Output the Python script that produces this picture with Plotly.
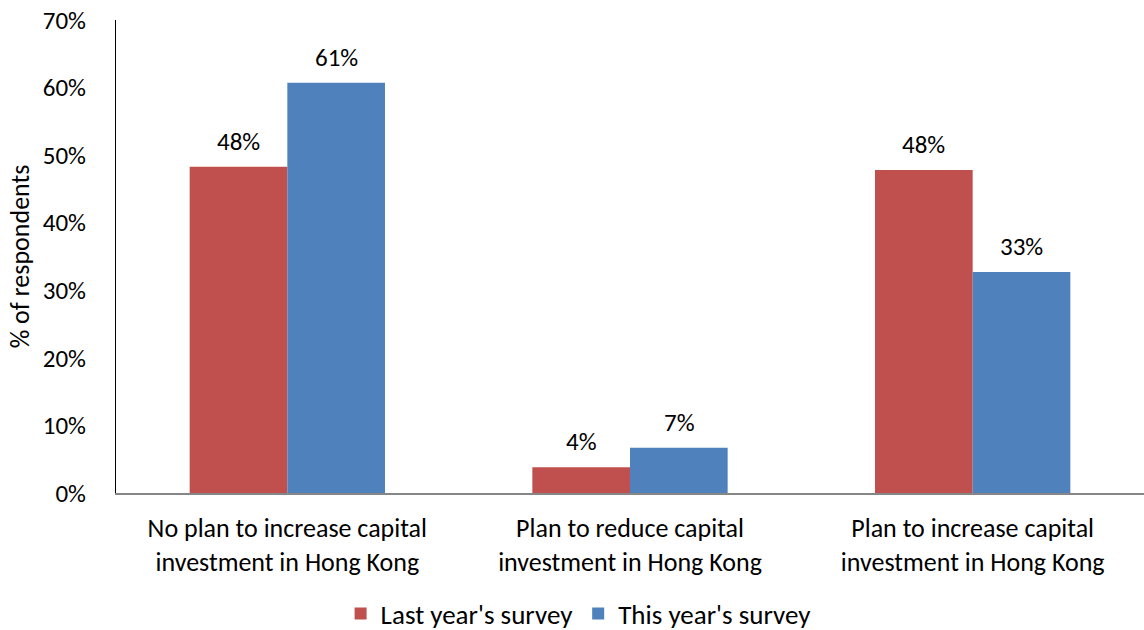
import plotly.graph_objects as go

categories = [
    "No plan to increase capital<br>investment in Hong Kong",
    "Plan to reduce capital<br>investment in Hong Kong",
    "Plan to increase capital<br>investment in Hong Kong",
]
last_year = [48.3, 3.8, 47.8]
this_year = [60.7, 6.7, 32.7]
series_names = ["Last year's survey", "This year's survey"]
colors = ["#C0504D", "#4F81BD"]

FONT = "Carlito, Lato, sans-serif"
FS = 25       # numbers: axis ticks and value labels
FS_CAT = 26   # category names
FS_LEG = 27   # legend
BAR_PX = 98   # drawn width of one bar in pixels, used to centre value labels

fig = go.Figure()
for name, vals, col in zip(series_names, [last_year, this_year], colors):
    fig.add_trace(go.Bar(
        x=categories,
        y=vals,
        name=name,
        marker=dict(color=col, line=dict(width=0)),
    ))

# value labels above each bar
for si, vals in enumerate([last_year, this_year]):
    shift = (si - 0.5) * BAR_PX
    for cat, v in zip(categories, vals):
        fig.add_annotation(
            x=cat, y=v, text=f"{v:.0f}%",
            showarrow=False, xshift=shift, yshift=8,
            yanchor="bottom", xanchor="center",
            font=dict(size=FS, color="#000000", family=FONT),
        )

fig.update_layout(
    width=1144,
    height=630,
    margin=dict(l=116, r=0, t=20, b=137, autoexpand=False),
    barmode="group",
    bargap=0.43,
    bargroupgap=0,
    plot_bgcolor="white",
    paper_bgcolor="white",
    font=dict(family=FONT, size=FS, color="#000000"),
    showlegend=True,
    legend=dict(
        orientation="h",
        x=0.45, xanchor="center",
        y=-0.2558, yanchor="middle",
        font=dict(size=FS_LEG),
        itemwidth=30,
        traceorder="normal",
    ),
    xaxis=dict(
        showline=True,
        linecolor="#868686",
        linewidth=2,
        ticks="",
        ticklabelstandoff=11,
        tickfont=dict(size=FS_CAT),
    ),
    yaxis=dict(
        range=[0, 70],
        dtick=10,
        ticksuffix="%",
        showgrid=False,
        zeroline=False,
        showline=True,
        linecolor="#000000",
        linewidth=1,
        ticks="",
        ticklabelstandoff=24,
        tickfont=dict(size=FS),
        title=dict(text="% of respondents", font=dict(size=26), standoff=5),
    ),
)

fig.write_html("out.html")
